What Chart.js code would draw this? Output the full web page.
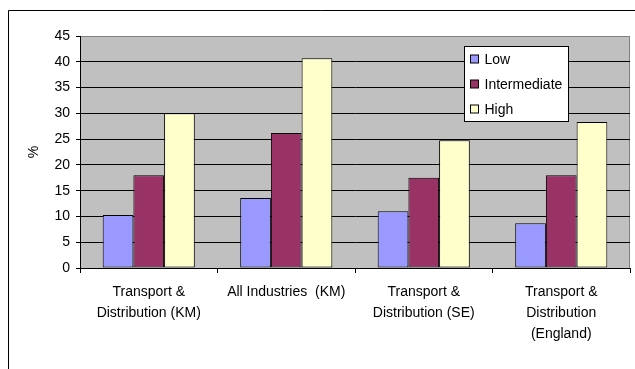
<!DOCTYPE html>
<html>
<head>
<meta charset="utf-8">
<script src="https://cdn.jsdelivr.net/npm/chart.js@4/dist/chart.umd.min.js"></script>
<style>
  html, body { margin: 0; padding: 0; background: #ffffff; }
  #wrap { width: 635px; height: 369px; }
</style>
</head>
<body>
<div id="wrap"><canvas id="chart" width="635" height="369"></canvas></div>
<script>
// Share of workforce by skill level, per sector / area
const categories = [
  ['Transport &', 'Distribution (KM)'],
  'All Industries  (KM)',
  ['Transport &', 'Distribution (SE)'],
  ['Transport &', 'Distribution', '(England)']
];
const seriesNames = ['Low', 'Intermediate', 'High'];
const lowValues = [10.3, 13.6, 11.0, 8.7];
const intermediateValues = [18.0, 26.2, 17.5, 18.0];
const highValues = [30.0, 40.7, 24.8, 28.3];
const yTicks = [0, 5, 10, 15, 20, 25, 30, 35, 40, 45];

const seriesColors = ['#9999FF', '#993366', '#FFFFCC'];

Chart.defaults.font.family = "'Liberation Sans', Arial, sans-serif";
Chart.defaults.font.size = 14;
Chart.defaults.color = '#000000';

// Page background, outer frame, grey plot area
const framePlugin = {
  id: 'frame',
  beforeDraw(chart) {
    const { ctx, chartArea: a, width, height } = chart;
    ctx.save();
    ctx.fillStyle = '#ffffff';
    ctx.fillRect(0, 0, width, height);
    ctx.strokeStyle = '#000000';
    ctx.lineWidth = 1;
    ctx.beginPath();
    ctx.moveTo(8.5, height);
    ctx.lineTo(8.5, 10.5);
    ctx.lineTo(width, 10.5);
    ctx.stroke();
    ctx.fillStyle = '#C0C0C0';
    ctx.fillRect(a.left, a.top, a.right - a.left, a.bottom - a.top);
    ctx.strokeStyle = '#808080';
    ctx.beginPath();
    ctx.moveTo(a.left, a.top + 0.5);
    ctx.lineTo(a.right - 0.5, a.top + 0.5);
    ctx.lineTo(a.right - 0.5, a.bottom);
    ctx.stroke();
    ctx.restore();
  }
};

// Boxed legend inside the plot area
const boxLegendPlugin = {
  id: 'boxLegend',
  afterDraw(chart) {
    const { ctx, chartArea: a } = chart;
    const x = a.left + 384.5, y = a.top + 10.5, w = 104, h = 75;
    ctx.save();
    ctx.fillStyle = '#ffffff';
    ctx.fillRect(x, y, w, h);
    ctx.strokeStyle = '#000000';
    ctx.lineWidth = 1;
    ctx.strokeRect(x, y, w, h);
    ctx.font = "14px 'Liberation Sans', Arial, sans-serif";
    ctx.textBaseline = 'middle';
    chart.data.datasets.forEach((ds, i) => {
      const cy = a.top + 23 + i * 25;
      ctx.fillStyle = ds.backgroundColor;
      ctx.fillRect(x + 6, cy - 4, 8, 8);
      ctx.strokeRect(x + 6, cy - 4, 8, 8);
      ctx.fillStyle = '#000000';
      ctx.fillText(ds.label, x + 20, cy + 1);
    });
    ctx.restore();
  }
};

const datasets = [lowValues, intermediateValues, highValues].map((vals, i) => ({
  label: seriesNames[i],
  data: vals,
  backgroundColor: seriesColors[i],
  borderColor: '#000000',
  borderWidth: 1,
  borderSkipped: false,
  categoryPercentage: 0.67,
  barPercentage: 1.0
}));

new Chart(document.getElementById('chart'), {
  type: 'bar',
  data: { labels: categories, datasets },
  plugins: [framePlugin, boxLegendPlugin],
  options: {
    responsive: false,
    animation: false,
    layout: { padding: { top: 36, right: 5, left: 0, bottom: 0 } },
    plugins: { legend: { display: false }, tooltip: { enabled: false } },
    scales: {
      x: {
        grid: {
          drawOnChartArea: false,
          drawTicks: true,
          tickLength: 5,
          tickColor: '#000000'
        },
        border: { color: '#000000', width: 1 },
        ticks: {
          color: '#000000',
          font: { size: 14, lineHeight: 1.5 },
          padding: 9,
          maxRotation: 0,
          autoSkip: false
        },
        afterFit(scale) { scale.height = 101; }
      },
      y: {
        min: 0,
        max: 45,
        afterBuildTicks(scale) { scale.ticks = yTicks.map(v => ({ value: v })); },
        grid: {
          color: ctx => (ctx.tick && ctx.tick.value === 45 ? '#808080' : '#000000'),
          tickColor: '#000000',
          tickLength: 4,
          lineWidth: 1
        },
        border: { color: '#000000', width: 1 },
        ticks: { color: '#000000', padding: 6, font: { size: 14 } },
        title: {
          display: true,
          text: '%',
          color: '#000000',
          font: { size: 14 },
          padding: { top: 26, bottom: 0 }
        },
        afterFit(scale) { scale.width = 80; }
      }
    }
  }
});
</script>
</body>
</html>
